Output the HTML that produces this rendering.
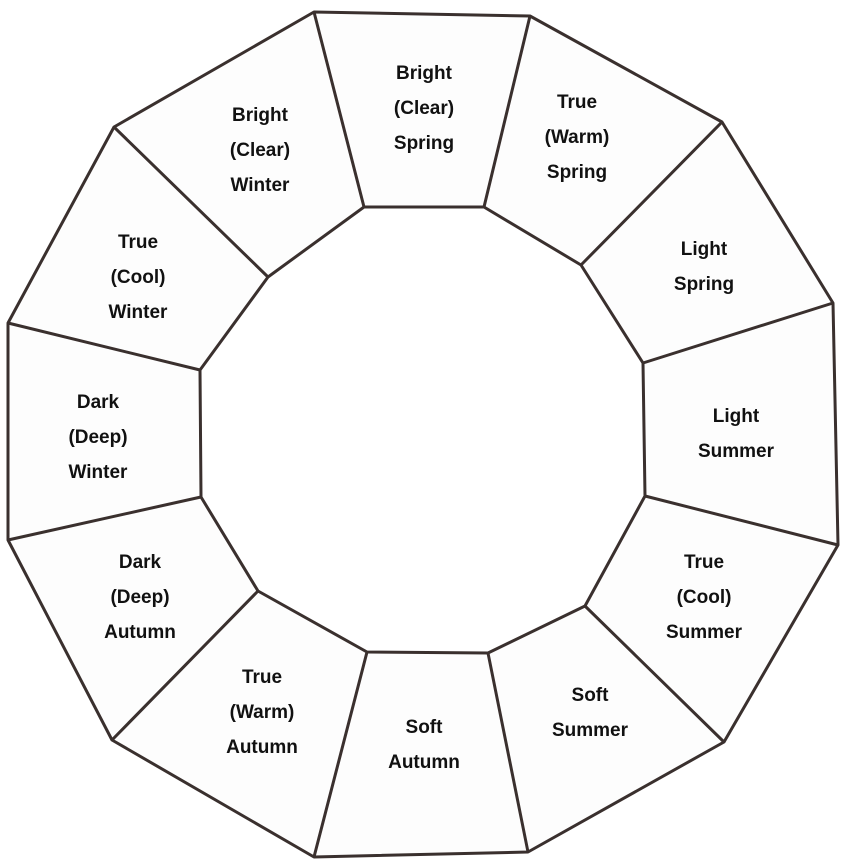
<!DOCTYPE html>
<html><head><style>body{margin:0;background:#fff}svg{display:block}text{font-family:"Liberation Sans",sans-serif;font-size:19px;font-weight:bold;fill:#111;text-anchor:middle}</style></head><body>
<svg width="844" height="867" xmlns="http://www.w3.org/2000/svg">
<g fill="#fdfdfd" stroke="#3a302e" stroke-width="3" stroke-linejoin="round">
<path fill-rule="evenodd" d="M314,12 L530,16 L722,122 L833,303 L838,545 L724,742 L528,852 L314,857 L112,740 L8,540 L8,323 L114,127 Z M364,207 L268,277 L200,370 L201,497 L258,591 L367,652 L488,653 L585,606 L645,496 L643,363 L581,265 L484,207 Z"/>
<path fill="none" d="M314,12L364,207M530,16L484,207M722,122L581,265M833,303L643,363M838,545L645,496M724,742L585,606M528,852L488,653M314,857L367,652M112,740L258,591M8,540L201,497M8,323L200,370M114,127L268,277"/>
</g>
<text x="424" y="79">Bright</text><text x="424" y="114">(Clear)</text><text x="424" y="149">Spring</text>
<text x="577" y="108">True</text><text x="577" y="143">(Warm)</text><text x="577" y="178">Spring</text>
<text x="704" y="255">Light</text><text x="704" y="290">Spring</text>
<text x="736" y="422">Light</text><text x="736" y="457">Summer</text>
<text x="704" y="568">True</text><text x="704" y="603">(Cool)</text><text x="704" y="638">Summer</text>
<text x="590" y="701">Soft</text><text x="590" y="736">Summer</text>
<text x="424" y="733">Soft</text><text x="424" y="768">Autumn</text>
<text x="262" y="683">True</text><text x="262" y="718">(Warm)</text><text x="262" y="753">Autumn</text>
<text x="140" y="568">Dark</text><text x="140" y="603">(Deep)</text><text x="140" y="638">Autumn</text>
<text x="98" y="408">Dark</text><text x="98" y="443">(Deep)</text><text x="98" y="478">Winter</text>
<text x="138" y="248">True</text><text x="138" y="283">(Cool)</text><text x="138" y="318">Winter</text>
<text x="260" y="121">Bright</text><text x="260" y="156">(Clear)</text><text x="260" y="191">Winter</text>
</svg></body></html>
